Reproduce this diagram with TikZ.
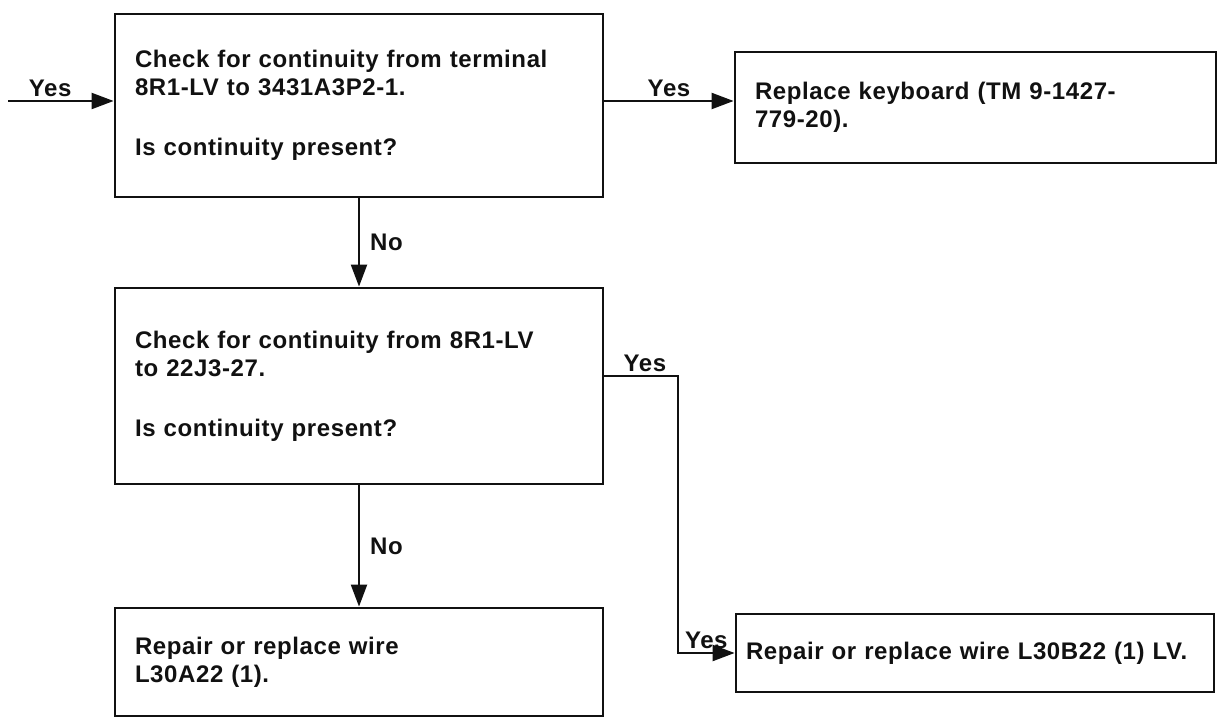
\documentclass[tikz,border=0pt]{standalone}
\usepackage{fontspec}
\setmainfont{Liberation Sans}[LetterSpace=2.5]
\usetikzlibrary{positioning, arrows.meta}
\definecolor{Ink}{HTML}{111111}
\tikzset{
    stepbox/.style={rectangle, draw=Ink, line width=1.4pt, align=left, inner xsep=10pt, inner ysep=0pt, text=Ink},
    arrow/.style={-{Triangle[length=11pt, width=8pt]}, line width=1.1pt, color=Ink},
    answer/.style={text=Ink, inner sep=1.5pt},
}

\begin{document}
\begin{tikzpicture}[x=0.5pt, y=-0.5pt, font=\fontsize{12}{14}\selectfont\bfseries]
    \useasboundingbox (0,0) rectangle (1219,721);

    % Riquadri
    \node[stepbox, text width=224pt, minimum height=91.5pt] (check1) at (359,105.5) {Check for continuity from terminal\\ 8R1-LV to 3431A3P2-1.\\[16pt] Is continuity present?};
    \node[stepbox, text width=220.5pt, minimum height=55.5pt] (keyboard) at (975.5,107.5) {Replace keyboard (TM 9-1427-\\ 779-20).};
    \node[stepbox, text width=224pt, minimum height=98pt] (check2) at (359,386) {Check for continuity from 8R1-LV\\ to 22J3-27.\\[16pt] Is continuity present?};
    \node[stepbox, text width=224pt, minimum height=54pt] (wireA) at (359,662) {Repair or replace wire\\ L30A22 (1).};
    \node[stepbox, text width=229pt, inner xsep=5pt, minimum height=39pt] (wireB) at (975,653) {Repair or replace wire L30B22 (1) LV.};

    % Frecce
    \coordinate (entry) at (8,101);
    \coordinate (bend) at (678,376);
    \draw[arrow] (entry) -- node[answer, above, pos=0.4] {Yes} (check1.west |- entry);
    \draw[arrow] (check1.east |- entry) -- node[answer, above] {Yes} (keyboard.west |- entry);
    \draw[arrow] (check1) -- node[answer, right, inner sep=5pt] {No} (check2);
    \draw[arrow] (check2) -- node[answer, right, inner sep=5pt] {No} (wireA);
    \draw[arrow] (check2.east |- bend) -- node[answer, above, pos=0.55] {Yes} (bend) |- node[answer, above, pos=0.75] {Yes} (wireB.west);
\end{tikzpicture}
\end{document}
